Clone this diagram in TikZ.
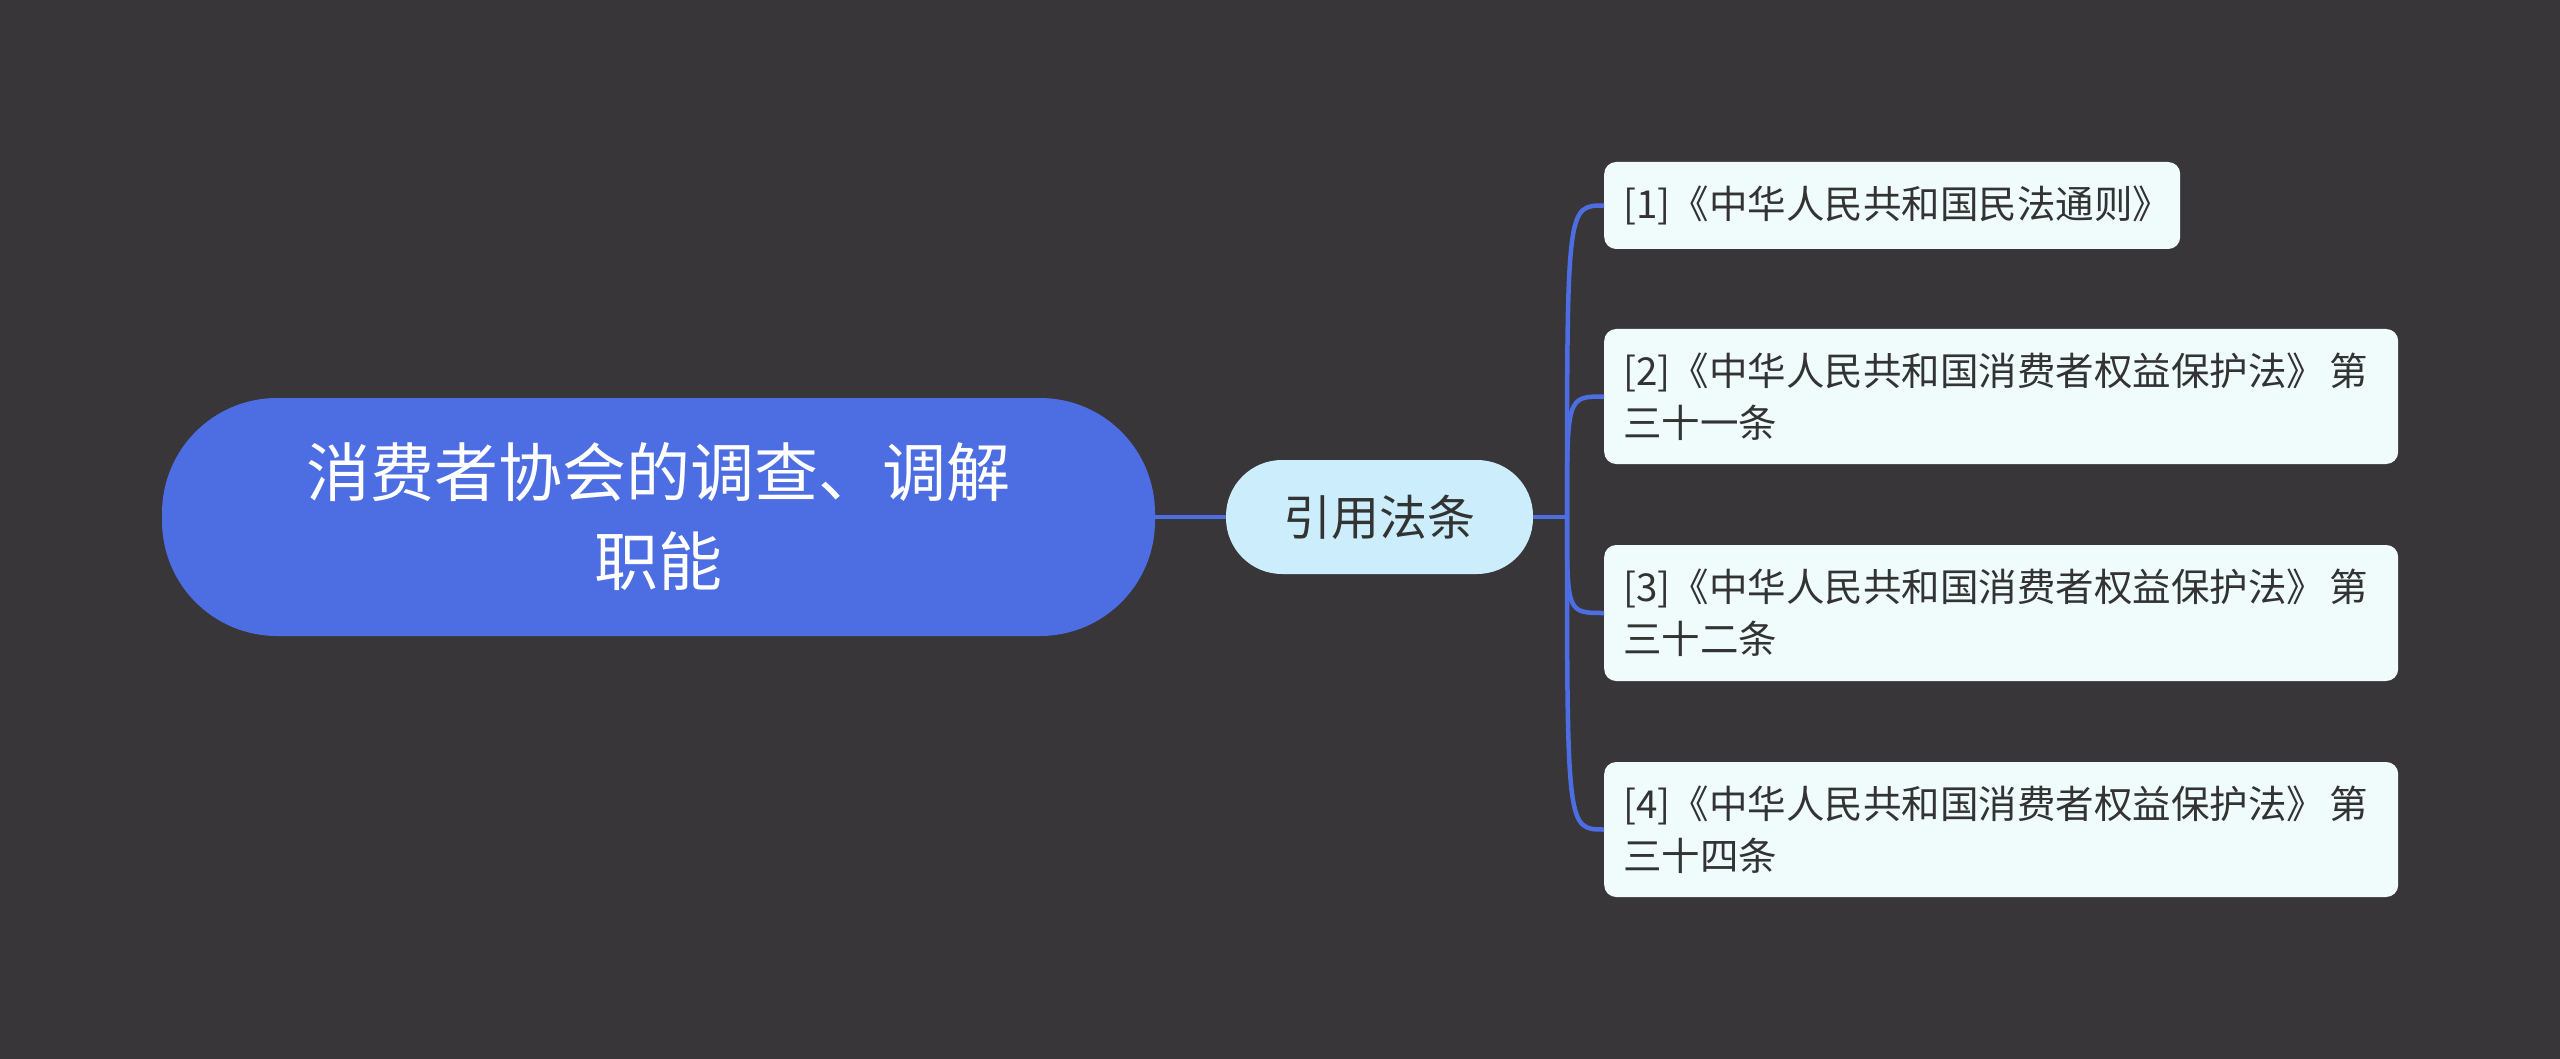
\documentclass[tikz,border=0pt]{standalone}
\usepackage{fontspec}
\setmainfont{Noto Sans CJK SC}
\definecolor{bgdark}{RGB}{56,54,56}
\definecolor{rootblue}{RGB}{77,110,226}
\definecolor{linkblue}{RGB}{77,110,226}
\definecolor{midcyan}{RGB}{204,238,252}
\definecolor{leaffill}{RGB}{240,252,252}
\definecolor{textdark}{RGB}{51,51,51}
\begin{document}
\begin{tikzpicture}[x=1pt,y=-1pt,
  conn/.style={draw=linkblue, line width=4.5pt},
  rootbox/.style={fill=rootblue, rounded corners=115pt, minimum width=993pt, minimum height=238pt,
    text=white, font=\fontsize{64}{89}\selectfont, align=center, inner sep=0pt},
  midbox/.style={fill=midcyan, rounded corners=56pt, minimum width=307pt, minimum height=114pt,
    text=textdark, font=\fontsize{48}{60}\selectfont, inner sep=0pt},
  leafbox/.style={fill=leaffill, rounded corners=12pt, text=textdark,
    font=\fontsize{38.5}{52}\selectfont, align=left, inner xsep=19pt, inner ysep=0pt, anchor=west}]
\useasboundingbox (0,0) rectangle (2560,1059);
\fill[bgdark] (0,0) rectangle (2560,1059);

\node[rootbox] (root) at (658.5,517) {消费者协会的调查、调解\\职能};
\node[midbox] (mid) at (1379.5,517) {引用法条};

\node[leafbox, text width=538pt, minimum height=87pt] (l1) at (1604,205.5) {\mbox{[1]《中华人民共和国民法通则》}};
\node[leafbox, text width=756pt, minimum height=135pt] (l2) at (1604,396.5) {\mbox{[2]《中华人民共和国消费者权益保护法》\hspace{4pt}第}\\三十一条};
\node[leafbox, text width=756pt, minimum height=136pt] (l3) at (1604,613) {\mbox{[3]《中华人民共和国消费者权益保护法》\hspace{4pt}第}\\三十二条};
\node[leafbox, text width=756pt, minimum height=135pt] (l4) at (1604,829.5) {\mbox{[4]《中华人民共和国消费者权益保护法》\hspace{4pt}第}\\三十四条};

\coordinate (fork) at (1567,517);
\draw[conn] (root.east) -- (mid.west);
\draw[conn] (mid.east) -- (fork);
\foreach \n in {l1,l2,l3,l4}{
  \draw[conn] (fork) .. controls (fork |- \n.west) .. (\n.west);
}
\end{tikzpicture}
\end{document}
